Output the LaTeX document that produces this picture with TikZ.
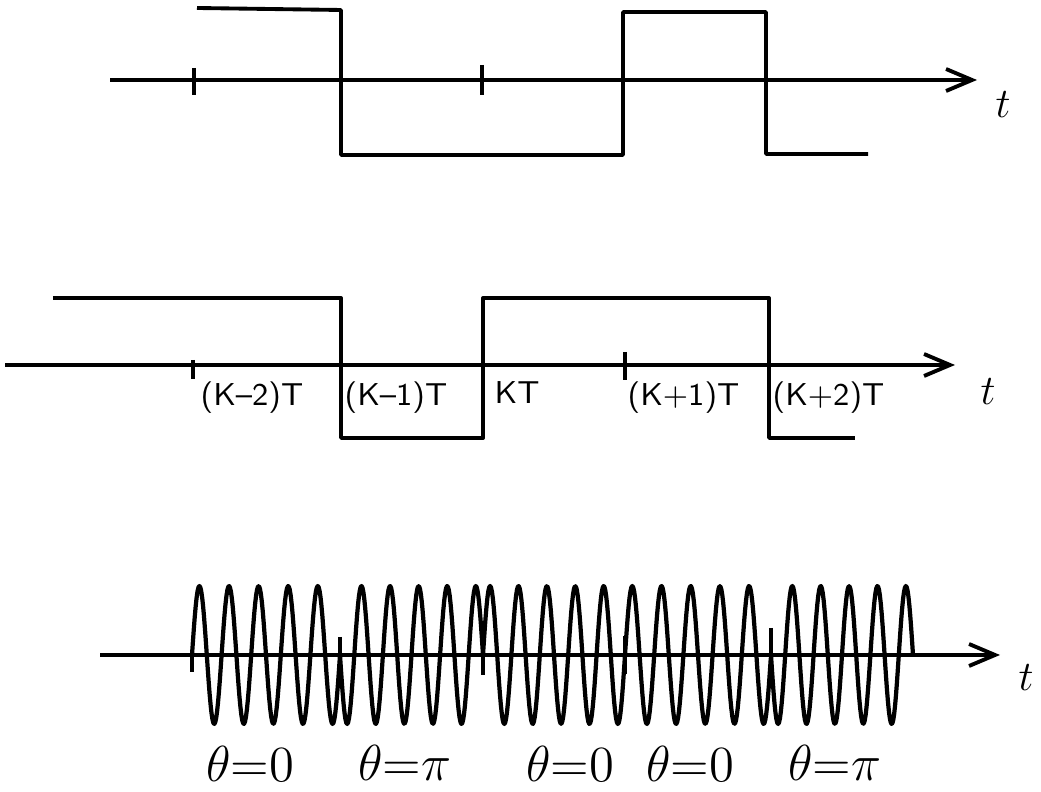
\documentclass[tikz,border=0pt]{standalone}
\usetikzlibrary{arrows.meta}
\begin{document}
\begin{tikzpicture}[x=1cm,y=-1cm,
    sig/.style={line width=1.1pt,line join=round},
    axis/.style={line width=1.1pt,-{Straight Barb[length=2.6mm,width=2.2mm,line width=1.1pt]}},
    tick/.style={line width=1pt},
    wave/.style={line width=1.2pt,line join=round},
    klbl/.style={anchor=west,inner sep=0pt,font=\sffamily\fontsize{9}{10}\selectfont},
    tlbl/.style={inner sep=0pt,font=\fontsize{13}{14}\selectfont},
    thlbl/.style={inner sep=0pt,font=\fontsize{15}{17}\selectfont}]
    \useasboundingbox (0,0) rectangle (10.41,7.92);
    % top row
    \coordinate (a1s) at (1.10,0.80);
    \coordinate (a1e) at (9.77,0.80);
    \draw[axis] (a1s) -- (a1e);
    \node[tlbl] (t1) at (10.03,1.05) {$t$};
    \draw[tick] (1.94,0.68) -- (1.94,0.95);
    \draw[tick] (4.82,0.65) -- (4.82,0.95);
    \draw[sig] (1.97,0.08) -- (3.41,0.10) -- (3.41,1.55) -- (6.23,1.55)
        -- (6.23,0.12) -- (7.66,0.12) -- (7.66,1.54) -- (8.68,1.54);
    % middle row
    \coordinate (a2s) at (0.05,3.65);
    \coordinate (a2e) at (9.55,3.65);
    \draw[axis] (a2s) -- (a2e);
    \node[tlbl] (t2) at (9.88,3.92) {$t$};
    \draw[tick] (1.93,3.60) -- (1.93,3.79);
    \draw[tick] (6.25,3.52) -- (6.25,3.80);
    \draw[sig] (0.53,2.98) -- (3.41,2.98) -- (3.41,4.38) -- (4.83,4.38)
        -- (4.83,2.98) -- (7.69,2.98) -- (7.69,4.38) -- (8.55,4.38);
    \node[klbl] (k1) at (2.00,3.98) {(K--2)T};
    \node[klbl] (k2) at (3.44,3.98) {(K--1)T};
    \node[klbl] (k3) at (4.94,3.93) {KT};
    \node[klbl] (k4) at (6.27,3.98) {(K+1)T};
    \node[klbl] (k5) at (7.72,3.98) {(K+2)T};
    % bottom row
    \coordinate (a3s) at (1.00,6.55);
    \coordinate (a3e) at (10.00,6.55);
    \draw[axis] (a3s) -- (a3e);
    \node[tlbl] (t3) at (10.26,6.78) {$t$};
    \foreach \a/\b/\p in {1.92/3.40/0, 3.40/4.83/180, 4.83/6.25/0, 6.25/7.71/0, 7.71/9.13/180}
        \draw[wave] plot[domain=\a:\b,samples=160]
            (\x,{6.55-0.69*sin(5*360*(\x-\a)/(\b-\a)+\p)});
    \draw[tick] (1.92,6.55) -- (1.92,6.72);
    \draw[tick] (3.40,6.37) -- (3.40,6.55);
    \draw[tick] (4.83,6.55) -- (4.83,6.75);
    \draw[tick] (6.25,6.36) -- (6.25,6.74);
    \draw[tick] (7.71,6.28) -- (7.71,6.55);
    \node[thlbl] (h1) at (2.50,7.64) {$\theta{=}0$};
    \node[thlbl] (h2) at (4.05,7.63) {$\theta{=}\pi$};
    \node[thlbl] (h3) at (5.70,7.64) {$\theta{=}0$};
    \node[thlbl] (h4) at (6.90,7.64) {$\theta{=}0$};
    \node[thlbl] (h5) at (8.35,7.63) {$\theta{=}\pi$};
\end{tikzpicture}
\end{document}
